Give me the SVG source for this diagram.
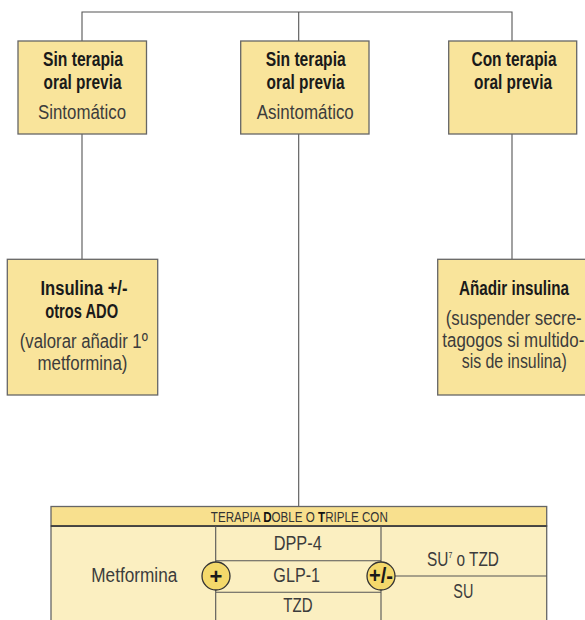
<svg xmlns="http://www.w3.org/2000/svg" width="585" height="620" viewBox="0 0 585 620">
<style>
.box{fill:#f9e49b;stroke:#666;stroke-width:1.3}
.con{fill:none;stroke:#555;stroke-width:1.1}
.t{font-family:"Liberation Sans",Arial,sans-serif;text-anchor:middle}
.b{font-weight:bold;font-size:20px;fill:#1a1a1a}
.r{font-size:20px;fill:#3c3c3c}
.hd{font-size:15px;fill:#333}
.cell{font-size:20px;fill:#3c3c3c}
.grid{fill:none;stroke:#555;stroke-width:1.1}
.circ{fill:#f4d96b;stroke:#333;stroke-width:1.3}
.sym{font-family:"Liberation Sans",Arial,sans-serif;font-weight:bold;font-size:22px;fill:#1a1a1a;text-anchor:middle}
</style>
<g id="connectors">
<path class="con" d="M82,41 V12 H512 V41"/>
<path class="con" d="M298.7,12 V41"/>
<path class="con" d="M82,134 V259"/>
<path class="con" d="M298.7,134 V507"/>
<path class="con" d="M512,134 V259"/>
</g>
<g id="node-sin-sintomatico">
<rect class="box" x="18" y="41" width="128.5" height="93"/>
<text class="t b" x="83" y="66" textLength="80" lengthAdjust="spacingAndGlyphs">Sin terapia</text>
<text class="t b" x="82.5" y="89" textLength="78" lengthAdjust="spacingAndGlyphs">oral previa</text>
<text class="t r" x="82" y="119" textLength="88" lengthAdjust="spacingAndGlyphs">Sintomático</text>
</g>
<g id="node-sin-asintomatico">
<rect class="box" x="240.7" y="41" width="128.3" height="93"/>
<text class="t b" x="305.7" y="66" textLength="80" lengthAdjust="spacingAndGlyphs">Sin terapia</text>
<text class="t b" x="305.5" y="89" textLength="78" lengthAdjust="spacingAndGlyphs">oral previa</text>
<text class="t r" x="305.3" y="119" textLength="97" lengthAdjust="spacingAndGlyphs">Asintomático</text>
</g>
<g id="node-con-terapia">
<rect class="box" x="448.7" y="41" width="128" height="93"/>
<text class="t b" x="514" y="66" textLength="85" lengthAdjust="spacingAndGlyphs">Con terapia</text>
<text class="t b" x="513" y="89" textLength="78" lengthAdjust="spacingAndGlyphs">oral previa</text>
</g>
<g id="node-insulina">
<rect class="box" x="7.3" y="259.3" width="150.4" height="135.7"/>
<text class="t b" x="84" y="295" textLength="87" lengthAdjust="spacingAndGlyphs">Insulina +/-</text>
<text class="t b" x="81.7" y="318" textLength="73" lengthAdjust="spacingAndGlyphs">otros ADO</text>
<text class="t r" x="83.8" y="348" textLength="128" lengthAdjust="spacingAndGlyphs">(valorar añadir 1º</text>
<text class="t r" x="82.5" y="370" textLength="90" lengthAdjust="spacingAndGlyphs">metformina)</text>
</g>
<g id="node-anadir">
<rect class="box" x="437.7" y="259.3" width="150" height="135.7"/>
<text class="t b" x="514" y="295" textLength="110" lengthAdjust="spacingAndGlyphs">Añadir insulina</text>
<text class="t r" x="513.7" y="325" textLength="136" lengthAdjust="spacingAndGlyphs">(suspender secre-</text>
<text class="t r" x="513.3" y="347" textLength="142" lengthAdjust="spacingAndGlyphs">tagogos si multido-</text>
<text class="t r" x="514.2" y="368" textLength="105" lengthAdjust="spacingAndGlyphs">sis de insulina)</text>
</g>
<g id="node-terapia-doble">
<rect x="51" y="526" width="495.7" height="110" fill="#fbefc1" stroke="#666" stroke-width="1.3"/>
<rect x="51" y="506.5" width="495.7" height="19.5" fill="#f8e08e" stroke="#666" stroke-width="1.3"/>
<line x1="51" y1="526" x2="546.7" y2="526" stroke="#333" stroke-width="1.3"/>
<text class="t hd" x="299.3" y="521.7" textLength="177" lengthAdjust="spacingAndGlyphs">TERAPIA <tspan font-weight="bold" fill="#111">D</tspan>OBLE O <tspan font-weight="bold" fill="#111">T</tspan>RIPLE CON</text>
<path class="grid" d="M215.7,526 V630 M381,526 V630 M215.7,560.7 H381 M215.7,592.3 H381 M381,576 H546.7"/>
<text class="t cell" x="134.3" y="581.7" textLength="86" lengthAdjust="spacingAndGlyphs">Metformina</text>
<text class="t cell" x="297.7" y="550" textLength="48" lengthAdjust="spacingAndGlyphs">DPP-4</text>
<text class="t cell" x="296.7" y="581.7" textLength="46.7" lengthAdjust="spacingAndGlyphs">GLP-1</text>
<text class="t cell" x="298" y="611.7" textLength="29.3" lengthAdjust="spacingAndGlyphs">TZD</text>
<text class="t cell" x="463" y="566" textLength="72" lengthAdjust="spacingAndGlyphs">SU<tspan font-size="9" dy="-8">7</tspan><tspan dy="8"> o TZD</tspan></text>
<text class="t cell" x="463.3" y="598.3" textLength="20" lengthAdjust="spacingAndGlyphs">SU</text>
<circle class="circ" cx="216" cy="576" r="14"/>
<text class="sym" x="216" y="583.5">+</text>
<circle class="circ" cx="381" cy="576" r="14"/>
<text class="sym" x="381" y="582.5" font-size="18" textLength="24" lengthAdjust="spacingAndGlyphs">+/-</text>
</g>
</svg>
